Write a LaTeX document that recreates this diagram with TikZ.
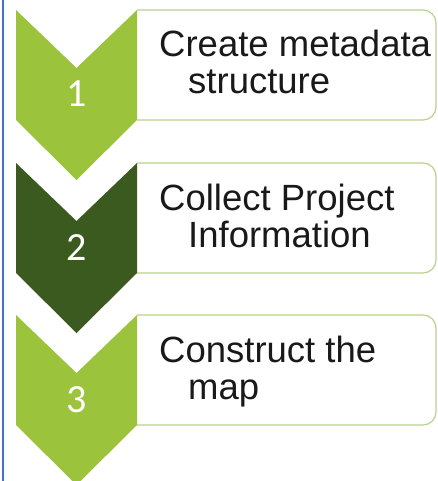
\documentclass[tikz,border=0pt]{standalone}
\usepackage{fontspec}
\setmainfont{Liberation Sans}
\newfontfamily\numfont{Carlito}

\definecolor{lgreen}{HTML}{9BC43C}
\definecolor{dgreen}{HTML}{3A5A1F}
\definecolor{boxline}{HTML}{B9D18A}
\definecolor{frameblue}{HTML}{4472C4}

\begin{document}
\begin{tikzpicture}[
				x = 1pt, y = -1pt,
				every node/.style = {inner sep = 0pt},
				steptext/.style = {anchor = base west, font = \fontsize{36.5}{37}\selectfont, text = black!90},
				stepnum/.style = {anchor = base, font = \numfont\fontsize{40}{40}\selectfont, text = white}]
				\def\w{121}

				\useasboundingbox (0,0) rectangle (438,481);
				\fill[white] (0,0) rectangle (438,481);
				\draw[frameblue,line width=2.5pt] (3,0) -- (3,481);

				\foreach \t/\c/\n/\a/\b [count=\i] in {10/lgreen/1/{Create metadata}/{structure},
						163/dgreen/2/{Collect Project}/{Information},
						315/lgreen/3/{Construct the}/{map}}{
					\draw[boxline,line width=1.2pt,fill=white,rounded corners=13pt] (137,\t) -- (436,\t) -- (436,\t+110) -- (137,\t+110);
					\fill[\c] (16,\t) -- (16+\w/2,\t+58) -- (16+\w,\t) -- (16+\w,\t+110) -- (16+\w/2,\t+170) -- (16,\t+110) -- cycle;
					\node[stepnum] (num\i) at (16+\w/2,\t+97) {\n};
					\node[steptext] (top\i) at (159,\t+47) {\a};
					\node[steptext] (bot\i) at (188,\t+84) {\b};
				}

			\end{tikzpicture}
\end{document}
